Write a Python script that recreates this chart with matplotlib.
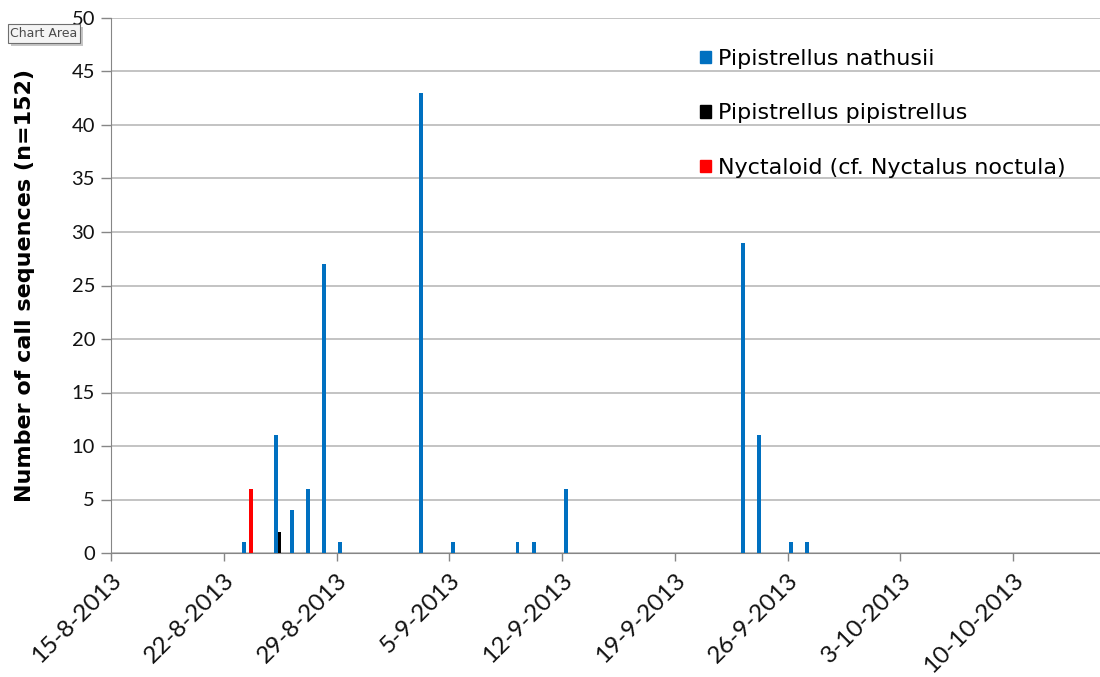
import matplotlib
matplotlib.use("Agg")
import matplotlib.pyplot as plt
import matplotlib.dates as mdates
from matplotlib.patches import Patch, Rectangle
import datetime as dt

# data (date -> number of call sequences)
nathusii_dates = ["2013-08-23", "2013-08-25", "2013-08-26", "2013-08-27", "2013-08-28",
                  "2013-08-29", "2013-09-03", "2013-09-05", "2013-09-09", "2013-09-10",
                  "2013-09-12", "2013-09-23", "2013-09-24", "2013-09-26", "2013-09-27"]
nathusii_vals = [1, 11, 4, 6, 27, 1, 43, 1, 1, 1, 6, 29, 11, 1, 1]
pipistrellus_dates = ["2013-08-25"]
pipistrellus_vals = [2]
nyctaloid_dates = ["2013-08-23"]
nyctaloid_vals = [6]

tick_dates = ["2013-08-15", "2013-08-22", "2013-08-29", "2013-09-05", "2013-09-12",
              "2013-09-19", "2013-09-26", "2013-10-03", "2013-10-10"]

series = [
    ("Pipistrellus nathusii", nathusii_dates, nathusii_vals, "#0070C0"),
    ("Pipistrellus pipistrellus", pipistrellus_dates, pipistrellus_vals, "#000000"),
    ("Nyctaloid (cf. Nyctalus noctula)", nyctaloid_dates, nyctaloid_vals, "#FF0000"),
]

def to_num(s):
    return mdates.date2num(dt.datetime.strptime(s, "%Y-%m-%d"))

fig = plt.figure(figsize=(11, 6.77), dpi=100)
ax = fig.add_axes([111 / 1100, 1 - 553 / 677, 989 / 1100, 535 / 677])

bw = 0.24
offsets = [0.235, 0.465, 0.695]
for (name, dates, vals, col), off in zip(series, offsets):
    xs = [to_num(d) + off for d in dates]
    ax.bar(xs, vals, width=bw, color=col, align="center", zorder=3)

x0 = to_num("2013-08-15")
ax.set_xlim(x0, x0 + 61.4)
ax.set_ylim(0, 50)
ax.set_yticks(range(0, 51, 5))
ax.yaxis.grid(True, color="#b3b3b3", lw=1.1, zorder=0)
ax.set_axisbelow(True)

ticks = [to_num(d) for d in tick_dates]
labels = [dt.datetime.strptime(d, "%Y-%m-%d") for d in tick_dates]
labels = ["%d-%d-%d" % (d.day, d.month, d.year) for d in labels]
ax.set_xticks(ticks)
ax.set_xticklabels(labels, rotation=45, ha="right", va="top",
                   rotation_mode="anchor", fontsize=17.5, family="Lato")
for lab in ax.get_yticklabels():
    lab.set_family("Lato")
ax.tick_params(axis="y", labelsize=14.5, colors="#868686", labelcolor="#111111",
               length=7.5, width=1, pad=4)
ax.tick_params(axis="x", colors="#868686", labelcolor="#111111",
               length=6, width=1, pad=6)

for s in ["top", "right"]:
    ax.spines[s].set_visible(False)
ax.spines["left"].set_color("#868686")
ax.spines["bottom"].set_color("#868686")

ax.set_ylabel("Number of call sequences (n=152)", fontsize=16, fontweight="bold",
              family="DejaVu Sans", labelpad=26)

handles = [Patch(color=c, label=n) for n, _, _, c in series]
ax.legend(handles=handles, loc="upper left", bbox_to_anchor=(680 / 1100, 1 - 29 / 677),
          bbox_transform=fig.transFigure, frameon=False,
          handlelength=0.5, handleheight=0.5, handletextpad=0.3, labelspacing=1.55,
          prop={"family": "DejaVu Sans", "size": 16})

# the "Chart Area" tooltip, with a soft shadow
W, H = 1100, 677
fig.patches.append(Rectangle((11 / W, 1 - 46 / H), 72 / W, 19 / H, transform=fig.transFigure,
                             fc="#a0a0a0", ec="none", alpha=0.6, zorder=5))
fig.patches.append(Rectangle((8 / W, 1 - 43 / H), 72 / W, 19 / H, transform=fig.transFigure,
                             fc="#f4f4f4", ec="#6f6f6f", lw=0.8, zorder=6))
fig.text(44 / W, 1 - 33.5 / H, "Chart Area", fontsize=9, color="#4a4a4a",
         ha="center", va="center", family="DejaVu Sans", zorder=7)

fig.savefig("out.png", dpi=100)
